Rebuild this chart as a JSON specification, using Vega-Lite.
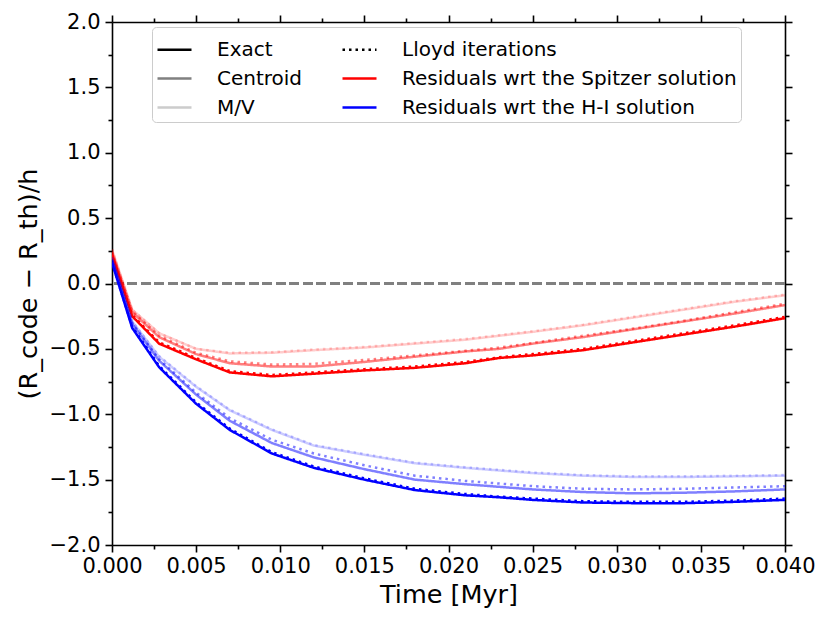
{
  "$schema": "https://vega.github.io/schema/vega-lite/v6.json",
  "width": 673,
  "height": 523,
  "autosize": "none",
  "padding": {"left": 112, "top": 22, "right": 45, "bottom": 79},
  "background": "white",
  "config": {
    "view": {"stroke": null},
    "font": "DejaVu Sans",
    "axis": {
      "labelFont": "DejaVu Sans",
      "titleFont": "DejaVu Sans",
      "labelColor": "black",
      "titleColor": "black",
      "domainColor": "black",
      "tickColor": "black",
      "domainWidth": 1.6,
      "tickWidth": 1.6,
      "grid": false
    },
    "legend": {
      "orient": "none", "legendX": 40, "legendY": 5, "columns": 2,
      "symbolType": "stroke", "symbolSize": 1156, "symbolStrokeWidth": 2.5,
      "labelFont": "DejaVu Sans", "labelFontSize": 20, "labelColor": "black", "labelLimit": 0,
      "labelOffset": 24, "columnPadding": 34, "rowPadding": -5, "padding": 4,
      "strokeColor": "#cccccc", "cornerRadius": 4, "fillColor": "white"
    }
  },
  "data": {
    "values": [
      {"t": 0, "v": 0.26, "s": "Spitzer M/V"}, {"t": 0.0012, "v": -0.2, "s": "Spitzer M/V"}, {"t": 0.0028, "v": -0.38, "s": "Spitzer M/V"}, {"t": 0.005, "v": -0.5, "s": "Spitzer M/V"}, {"t": 0.007, "v": -0.535, "s": "Spitzer M/V"}, {"t": 0.0095, "v": -0.53, "s": "Spitzer M/V"}, {"t": 0.012, "v": -0.51, "s": "Spitzer M/V"}, {"t": 0.015, "v": -0.49, "s": "Spitzer M/V"}, {"t": 0.018, "v": -0.46, "s": "Spitzer M/V"}, {"t": 0.021, "v": -0.43, "s": "Spitzer M/V"}, {"t": 0.023, "v": -0.4, "s": "Spitzer M/V"}, {"t": 0.025, "v": -0.37, "s": "Spitzer M/V"}, {"t": 0.028, "v": -0.32, "s": "Spitzer M/V"}, {"t": 0.031, "v": -0.26, "s": "Spitzer M/V"}, {"t": 0.034, "v": -0.2, "s": "Spitzer M/V"}, {"t": 0.037, "v": -0.14, "s": "Spitzer M/V"}, {"t": 0.04, "v": -0.09, "s": "Spitzer M/V"},
      {"t": 0, "v": 0.26, "s": "Spitzer M/V Lloyd"}, {"t": 0.0012, "v": -0.2, "s": "Spitzer M/V Lloyd"}, {"t": 0.0028, "v": -0.38, "s": "Spitzer M/V Lloyd"}, {"t": 0.005, "v": -0.5, "s": "Spitzer M/V Lloyd"}, {"t": 0.007, "v": -0.53, "s": "Spitzer M/V Lloyd"}, {"t": 0.0095, "v": -0.525, "s": "Spitzer M/V Lloyd"}, {"t": 0.012, "v": -0.505, "s": "Spitzer M/V Lloyd"}, {"t": 0.015, "v": -0.485, "s": "Spitzer M/V Lloyd"}, {"t": 0.018, "v": -0.455, "s": "Spitzer M/V Lloyd"}, {"t": 0.021, "v": -0.425, "s": "Spitzer M/V Lloyd"}, {"t": 0.023, "v": -0.395, "s": "Spitzer M/V Lloyd"}, {"t": 0.025, "v": -0.365, "s": "Spitzer M/V Lloyd"}, {"t": 0.028, "v": -0.315, "s": "Spitzer M/V Lloyd"}, {"t": 0.031, "v": -0.255, "s": "Spitzer M/V Lloyd"}, {"t": 0.034, "v": -0.195, "s": "Spitzer M/V Lloyd"}, {"t": 0.037, "v": -0.135, "s": "Spitzer M/V Lloyd"}, {"t": 0.04, "v": -0.085, "s": "Spitzer M/V Lloyd"},
      {"t": 0, "v": 0.24, "s": "Spitzer Centroid"}, {"t": 0.0012, "v": -0.22, "s": "Spitzer Centroid"}, {"t": 0.0028, "v": -0.41, "s": "Spitzer Centroid"}, {"t": 0.005, "v": -0.54, "s": "Spitzer Centroid"}, {"t": 0.007, "v": -0.61, "s": "Spitzer Centroid"}, {"t": 0.0095, "v": -0.635, "s": "Spitzer Centroid"}, {"t": 0.012, "v": -0.635, "s": "Spitzer Centroid"}, {"t": 0.015, "v": -0.6, "s": "Spitzer Centroid"}, {"t": 0.018, "v": -0.56, "s": "Spitzer Centroid"}, {"t": 0.021, "v": -0.52, "s": "Spitzer Centroid"}, {"t": 0.023, "v": -0.5, "s": "Spitzer Centroid"}, {"t": 0.025, "v": -0.46, "s": "Spitzer Centroid"}, {"t": 0.028, "v": -0.41, "s": "Spitzer Centroid"}, {"t": 0.031, "v": -0.35, "s": "Spitzer Centroid"}, {"t": 0.034, "v": -0.29, "s": "Spitzer Centroid"}, {"t": 0.037, "v": -0.23, "s": "Spitzer Centroid"}, {"t": 0.04, "v": -0.165, "s": "Spitzer Centroid"},
      {"t": 0, "v": 0.24, "s": "Spitzer Centroid Lloyd"}, {"t": 0.0012, "v": -0.21, "s": "Spitzer Centroid Lloyd"}, {"t": 0.0028, "v": -0.4, "s": "Spitzer Centroid Lloyd"}, {"t": 0.005, "v": -0.53, "s": "Spitzer Centroid Lloyd"}, {"t": 0.007, "v": -0.595, "s": "Spitzer Centroid Lloyd"}, {"t": 0.0095, "v": -0.62, "s": "Spitzer Centroid Lloyd"}, {"t": 0.012, "v": -0.615, "s": "Spitzer Centroid Lloyd"}, {"t": 0.015, "v": -0.585, "s": "Spitzer Centroid Lloyd"}, {"t": 0.018, "v": -0.55, "s": "Spitzer Centroid Lloyd"}, {"t": 0.021, "v": -0.515, "s": "Spitzer Centroid Lloyd"}, {"t": 0.023, "v": -0.49, "s": "Spitzer Centroid Lloyd"}, {"t": 0.025, "v": -0.455, "s": "Spitzer Centroid Lloyd"}, {"t": 0.028, "v": -0.4, "s": "Spitzer Centroid Lloyd"}, {"t": 0.031, "v": -0.345, "s": "Spitzer Centroid Lloyd"}, {"t": 0.034, "v": -0.285, "s": "Spitzer Centroid Lloyd"}, {"t": 0.037, "v": -0.22, "s": "Spitzer Centroid Lloyd"}, {"t": 0.04, "v": -0.155, "s": "Spitzer Centroid Lloyd"},
      {"t": 0, "v": 0.22, "s": "Spitzer Exact"}, {"t": 0.0012, "v": -0.25, "s": "Spitzer Exact"}, {"t": 0.0028, "v": -0.46, "s": "Spitzer Exact"}, {"t": 0.005, "v": -0.58, "s": "Spitzer Exact"}, {"t": 0.007, "v": -0.68, "s": "Spitzer Exact"}, {"t": 0.0095, "v": -0.71, "s": "Spitzer Exact"}, {"t": 0.012, "v": -0.69, "s": "Spitzer Exact"}, {"t": 0.015, "v": -0.665, "s": "Spitzer Exact"}, {"t": 0.018, "v": -0.645, "s": "Spitzer Exact"}, {"t": 0.021, "v": -0.61, "s": "Spitzer Exact"}, {"t": 0.023, "v": -0.57, "s": "Spitzer Exact"}, {"t": 0.025, "v": -0.55, "s": "Spitzer Exact"}, {"t": 0.028, "v": -0.51, "s": "Spitzer Exact"}, {"t": 0.031, "v": -0.45, "s": "Spitzer Exact"}, {"t": 0.034, "v": -0.39, "s": "Spitzer Exact"}, {"t": 0.037, "v": -0.33, "s": "Spitzer Exact"}, {"t": 0.04, "v": -0.265, "s": "Spitzer Exact"},
      {"t": 0, "v": 0.22, "s": "Spitzer Exact Lloyd"}, {"t": 0.0012, "v": -0.24, "s": "Spitzer Exact Lloyd"}, {"t": 0.0028, "v": -0.45, "s": "Spitzer Exact Lloyd"}, {"t": 0.005, "v": -0.57, "s": "Spitzer Exact Lloyd"}, {"t": 0.007, "v": -0.67, "s": "Spitzer Exact Lloyd"}, {"t": 0.0095, "v": -0.7, "s": "Spitzer Exact Lloyd"}, {"t": 0.012, "v": -0.68, "s": "Spitzer Exact Lloyd"}, {"t": 0.015, "v": -0.655, "s": "Spitzer Exact Lloyd"}, {"t": 0.018, "v": -0.635, "s": "Spitzer Exact Lloyd"}, {"t": 0.021, "v": -0.6, "s": "Spitzer Exact Lloyd"}, {"t": 0.023, "v": -0.565, "s": "Spitzer Exact Lloyd"}, {"t": 0.025, "v": -0.54, "s": "Spitzer Exact Lloyd"}, {"t": 0.028, "v": -0.5, "s": "Spitzer Exact Lloyd"}, {"t": 0.031, "v": -0.44, "s": "Spitzer Exact Lloyd"}, {"t": 0.034, "v": -0.38, "s": "Spitzer Exact Lloyd"}, {"t": 0.037, "v": -0.32, "s": "Spitzer Exact Lloyd"}, {"t": 0.04, "v": -0.255, "s": "Spitzer Exact Lloyd"},
      {"t": 0, "v": 0.2, "s": "H-I M/V"}, {"t": 0.0012, "v": -0.29, "s": "H-I M/V"}, {"t": 0.0028, "v": -0.56, "s": "H-I M/V"}, {"t": 0.005, "v": -0.79, "s": "H-I M/V"}, {"t": 0.007, "v": -0.97, "s": "H-I M/V"}, {"t": 0.0095, "v": -1.12, "s": "H-I M/V"}, {"t": 0.012, "v": -1.24, "s": "H-I M/V"}, {"t": 0.015, "v": -1.31, "s": "H-I M/V"}, {"t": 0.018, "v": -1.375, "s": "H-I M/V"}, {"t": 0.021, "v": -1.41, "s": "H-I M/V"}, {"t": 0.023, "v": -1.43, "s": "H-I M/V"}, {"t": 0.025, "v": -1.45, "s": "H-I M/V"}, {"t": 0.028, "v": -1.47, "s": "H-I M/V"}, {"t": 0.031, "v": -1.48, "s": "H-I M/V"}, {"t": 0.034, "v": -1.48, "s": "H-I M/V"}, {"t": 0.037, "v": -1.475, "s": "H-I M/V"}, {"t": 0.04, "v": -1.47, "s": "H-I M/V"},
      {"t": 0, "v": 0.2, "s": "H-I M/V Lloyd"}, {"t": 0.0012, "v": -0.29, "s": "H-I M/V Lloyd"}, {"t": 0.0028, "v": -0.555, "s": "H-I M/V Lloyd"}, {"t": 0.005, "v": -0.785, "s": "H-I M/V Lloyd"}, {"t": 0.007, "v": -0.965, "s": "H-I M/V Lloyd"}, {"t": 0.0095, "v": -1.115, "s": "H-I M/V Lloyd"}, {"t": 0.012, "v": -1.235, "s": "H-I M/V Lloyd"}, {"t": 0.015, "v": -1.305, "s": "H-I M/V Lloyd"}, {"t": 0.018, "v": -1.37, "s": "H-I M/V Lloyd"}, {"t": 0.021, "v": -1.405, "s": "H-I M/V Lloyd"}, {"t": 0.023, "v": -1.425, "s": "H-I M/V Lloyd"}, {"t": 0.025, "v": -1.445, "s": "H-I M/V Lloyd"}, {"t": 0.028, "v": -1.465, "s": "H-I M/V Lloyd"}, {"t": 0.031, "v": -1.475, "s": "H-I M/V Lloyd"}, {"t": 0.034, "v": -1.475, "s": "H-I M/V Lloyd"}, {"t": 0.037, "v": -1.47, "s": "H-I M/V Lloyd"}, {"t": 0.04, "v": -1.465, "s": "H-I M/V Lloyd"},
      {"t": 0, "v": 0.18, "s": "H-I Centroid"}, {"t": 0.0012, "v": -0.31, "s": "H-I Centroid"}, {"t": 0.0028, "v": -0.59, "s": "H-I Centroid"}, {"t": 0.005, "v": -0.85, "s": "H-I Centroid"}, {"t": 0.007, "v": -1.05, "s": "H-I Centroid"}, {"t": 0.0095, "v": -1.22, "s": "H-I Centroid"}, {"t": 0.012, "v": -1.33, "s": "H-I Centroid"}, {"t": 0.015, "v": -1.42, "s": "H-I Centroid"}, {"t": 0.018, "v": -1.5, "s": "H-I Centroid"}, {"t": 0.021, "v": -1.535, "s": "H-I Centroid"}, {"t": 0.023, "v": -1.555, "s": "H-I Centroid"}, {"t": 0.025, "v": -1.575, "s": "H-I Centroid"}, {"t": 0.028, "v": -1.595, "s": "H-I Centroid"}, {"t": 0.031, "v": -1.605, "s": "H-I Centroid"}, {"t": 0.034, "v": -1.6, "s": "H-I Centroid"}, {"t": 0.037, "v": -1.59, "s": "H-I Centroid"}, {"t": 0.04, "v": -1.575, "s": "H-I Centroid"},
      {"t": 0, "v": 0.18, "s": "H-I Centroid Lloyd"}, {"t": 0.0012, "v": -0.3, "s": "H-I Centroid Lloyd"}, {"t": 0.0028, "v": -0.58, "s": "H-I Centroid Lloyd"}, {"t": 0.005, "v": -0.835, "s": "H-I Centroid Lloyd"}, {"t": 0.007, "v": -1.03, "s": "H-I Centroid Lloyd"}, {"t": 0.0095, "v": -1.195, "s": "H-I Centroid Lloyd"}, {"t": 0.012, "v": -1.3, "s": "H-I Centroid Lloyd"}, {"t": 0.015, "v": -1.39, "s": "H-I Centroid Lloyd"}, {"t": 0.018, "v": -1.47, "s": "H-I Centroid Lloyd"}, {"t": 0.021, "v": -1.51, "s": "H-I Centroid Lloyd"}, {"t": 0.023, "v": -1.53, "s": "H-I Centroid Lloyd"}, {"t": 0.025, "v": -1.55, "s": "H-I Centroid Lloyd"}, {"t": 0.028, "v": -1.57, "s": "H-I Centroid Lloyd"}, {"t": 0.031, "v": -1.575, "s": "H-I Centroid Lloyd"}, {"t": 0.034, "v": -1.57, "s": "H-I Centroid Lloyd"}, {"t": 0.037, "v": -1.56, "s": "H-I Centroid Lloyd"}, {"t": 0.04, "v": -1.55, "s": "H-I Centroid Lloyd"},
      {"t": 0, "v": 0.16, "s": "H-I Exact"}, {"t": 0.0012, "v": -0.34, "s": "H-I Exact"}, {"t": 0.0028, "v": -0.64, "s": "H-I Exact"}, {"t": 0.005, "v": -0.92, "s": "H-I Exact"}, {"t": 0.007, "v": -1.12, "s": "H-I Exact"}, {"t": 0.0095, "v": -1.3, "s": "H-I Exact"}, {"t": 0.012, "v": -1.41, "s": "H-I Exact"}, {"t": 0.015, "v": -1.5, "s": "H-I Exact"}, {"t": 0.018, "v": -1.58, "s": "H-I Exact"}, {"t": 0.021, "v": -1.62, "s": "H-I Exact"}, {"t": 0.023, "v": -1.635, "s": "H-I Exact"}, {"t": 0.025, "v": -1.655, "s": "H-I Exact"}, {"t": 0.028, "v": -1.675, "s": "H-I Exact"}, {"t": 0.031, "v": -1.68, "s": "H-I Exact"}, {"t": 0.034, "v": -1.68, "s": "H-I Exact"}, {"t": 0.037, "v": -1.67, "s": "H-I Exact"}, {"t": 0.04, "v": -1.655, "s": "H-I Exact"},
      {"t": 0, "v": 0.16, "s": "H-I Exact Lloyd"}, {"t": 0.0012, "v": -0.33, "s": "H-I Exact Lloyd"}, {"t": 0.0028, "v": -0.63, "s": "H-I Exact Lloyd"}, {"t": 0.005, "v": -0.91, "s": "H-I Exact Lloyd"}, {"t": 0.007, "v": -1.11, "s": "H-I Exact Lloyd"}, {"t": 0.0095, "v": -1.29, "s": "H-I Exact Lloyd"}, {"t": 0.012, "v": -1.4, "s": "H-I Exact Lloyd"}, {"t": 0.015, "v": -1.49, "s": "H-I Exact Lloyd"}, {"t": 0.018, "v": -1.57, "s": "H-I Exact Lloyd"}, {"t": 0.021, "v": -1.61, "s": "H-I Exact Lloyd"}, {"t": 0.023, "v": -1.63, "s": "H-I Exact Lloyd"}, {"t": 0.025, "v": -1.645, "s": "H-I Exact Lloyd"}, {"t": 0.028, "v": -1.665, "s": "H-I Exact Lloyd"}, {"t": 0.031, "v": -1.67, "s": "H-I Exact Lloyd"}, {"t": 0.034, "v": -1.67, "s": "H-I Exact Lloyd"}, {"t": 0.037, "v": -1.66, "s": "H-I Exact Lloyd"}, {"t": 0.04, "v": -1.645, "s": "H-I Exact Lloyd"}
    ]
  },
  "resolve": {"axis": {"x": "independent", "y": "independent"}},
  "layer": [
    {
      "mark": {"type": "rule", "color": "#808080", "strokeWidth": 2.5, "strokeDash": [9.5, 4]},
      "encoding": {
        "y": {"datum": 0, "type": "quantitative", "scale": {"domain": [-2, 2], "nice": false}, "axis": null}
      }
    },
    {
      "mark": {"type": "line", "strokeWidth": 2.5, "clip": true},
      "encoding": {
        "x": {
          "field": "t", "type": "quantitative",
          "scale": {"domain": [0, 0.04], "nice": false, "zero": false},
          "axis": {
            "orient": "bottom", "title": "Time [Myr]", "format": ".3f",
            "values": [0, 0.005, 0.01, 0.015, 0.02, 0.025, 0.03, 0.035, 0.04],
            "labelFontSize": 21, "titleFontSize": 25.5, "titleFontWeight": "normal",
            "tickSize": 7, "labelPadding": 3, "titlePadding": 6, "labelFlush": false, "labelOverlap": false
          }
        },
        "y": {
          "field": "v", "type": "quantitative",
          "scale": {"domain": [-2, 2], "nice": false},
          "axis": {
            "orient": "left", "title": "(R_code − R_th)/h", "format": ".1f",
            "values": [-2, -1.5, -1, -0.5, 0, 0.5, 1, 1.5, 2],
            "labelFontSize": 21, "titleFontSize": 25.5, "titleFontWeight": "normal",
            "tickSize": 7, "labelPadding": 5, "titlePadding": 8, "labelFlush": false, "labelOverlap": false
          }
        },
        "color": {
          "field": "s", "type": "nominal",
          "scale": {
            "domain": ["Exact", "Lloyd iterations", "Centroid", "Residuals wrt the Spitzer solution", "M/V", "Residuals wrt the H-I solution",
              "Spitzer Exact", "Spitzer Exact Lloyd", "Spitzer Centroid", "Spitzer Centroid Lloyd", "Spitzer M/V", "Spitzer M/V Lloyd",
              "H-I Exact", "H-I Exact Lloyd", "H-I Centroid", "H-I Centroid Lloyd", "H-I M/V", "H-I M/V Lloyd"],
            "range": ["#000000", "#000000", "#808080", "#ff0000", "#cccccc", "#0000ff",
              "#ff0000", "#ff0000", "rgba(255,0,0,0.5)", "rgba(255,0,0,0.5)", "rgba(255,0,0,0.2)", "rgba(255,0,0,0.2)",
              "#0000ff", "#0000ff", "rgba(0,0,255,0.5)", "rgba(0,0,255,0.5)", "rgba(0,0,255,0.2)", "rgba(0,0,255,0.2)"]
          },
          "legend": {
            "title": null,
            "values": ["Exact", "Centroid", "M/V", "Lloyd iterations", "Residuals wrt the Spitzer solution", "Residuals wrt the H-I solution"]
          }
        },
        "strokeDash": {
          "field": "s", "type": "nominal",
          "scale": {
            "domain": ["Exact", "Lloyd iterations", "Centroid", "Residuals wrt the Spitzer solution", "M/V", "Residuals wrt the H-I solution",
              "Spitzer Exact", "Spitzer Exact Lloyd", "Spitzer Centroid", "Spitzer Centroid Lloyd", "Spitzer M/V", "Spitzer M/V Lloyd",
              "H-I Exact", "H-I Exact Lloyd", "H-I Centroid", "H-I Centroid Lloyd", "H-I M/V", "H-I M/V Lloyd"],
            "range": [[1, 0], [2.5, 4], [1, 0], [1, 0], [1, 0], [1, 0],
              [1, 0], [2.5, 4], [1, 0], [2.5, 4], [1, 0], [2.5, 4],
              [1, 0], [2.5, 4], [1, 0], [2.5, 4], [1, 0], [2.5, 4]]
          },
          "legend": {
            "title": null,
            "values": ["Exact", "Centroid", "M/V", "Lloyd iterations", "Residuals wrt the Spitzer solution", "Residuals wrt the H-I solution"]
          }
        }
      }
    },
    {
      "mark": {"type": "point", "opacity": 0},
      "encoding": {
        "x": {"field": "t", "type": "quantitative", "axis": {"orient": "bottom", "title": null, "labels": false, "domain": false, "tickSize": 4,
          "values": [0.0025, 0.0075, 0.0125, 0.0175, 0.0225, 0.0275, 0.0325, 0.0375]}},
        "y": {"field": "v", "type": "quantitative", "axis": {"orient": "left", "title": null, "labels": false, "domain": false, "tickSize": 4,
          "values": [-1.75, -1.25, -0.75, -0.25, 0.25, 0.75, 1.25, 1.75]}}
      }
    },
    {
      "mark": {"type": "point", "opacity": 0},
      "encoding": {
        "x": {"field": "t", "type": "quantitative", "axis": {"orient": "top", "title": null, "labels": false, "tickSize": 7,
          "values": [0, 0.005, 0.01, 0.015, 0.02, 0.025, 0.03, 0.035, 0.04]}},
        "y": {"field": "v", "type": "quantitative", "axis": {"orient": "right", "title": null, "labels": false, "tickSize": 7,
          "values": [-2, -1.5, -1, -0.5, 0, 0.5, 1, 1.5, 2]}}
      }
    },
    {
      "mark": {"type": "point", "opacity": 0},
      "encoding": {
        "x": {"field": "t", "type": "quantitative", "axis": {"orient": "top", "title": null, "labels": false, "domain": false, "tickSize": 4,
          "values": [0.0025, 0.0075, 0.0125, 0.0175, 0.0225, 0.0275, 0.0325, 0.0375]}},
        "y": {"field": "v", "type": "quantitative", "axis": {"orient": "right", "title": null, "labels": false, "domain": false, "tickSize": 4,
          "values": [-1.75, -1.25, -0.75, -0.25, 0.25, 0.75, 1.25, 1.75]}}
      }
    }
  ]
}
